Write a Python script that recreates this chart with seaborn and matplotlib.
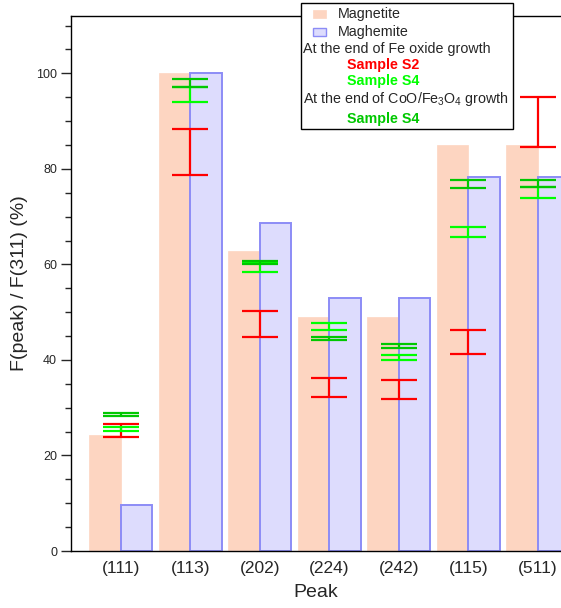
import numpy as np
import pandas as pd
import matplotlib
matplotlib.use("Agg")
import matplotlib.pyplot as plt
from matplotlib.patches import Rectangle
from matplotlib.ticker import MultipleLocator
import seaborn as sns

# peak intensities relative to (311), in %
peaks = ["(111)", "(113)", "(202)", "(224)", "(242)", "(115)", "(511)"]
magnetite = [24.2, 100.0, 62.8, 49.0, 49.0, 85.0, 85.0]
maghemite = [9.7, 100.0, 68.6, 52.9, 52.9, 78.2, 78.2]

# measured ratios with errors
s2_fe = [25.2, 83.5, 47.5, 34.3, 33.8, 43.7, 89.8]
s2_fe_err = [1.4, 4.8, 2.8, 2.0, 2.0, 2.5, 5.2]
s4_fe = [25.6, 95.6, 59.4, 47.0, 40.5, 66.8, 75.1]
s4_fe_err = [0.4, 1.5, 1.0, 0.8, 0.6, 1.0, 1.1]
s4_coo = [28.5, 98.0, 60.4, 44.5, 42.9, 76.8, 76.9]
s4_coo_err = [0.3, 0.9, 0.4, 0.4, 0.45, 0.8, 0.7]

W, H = 561, 608

sns.set_style("ticks")
plt.rcParams["font.family"] = ["Liberation Sans", "DejaVu Sans"]
plt.rcParams["mathtext.fontset"] = "custom"
plt.rcParams["mathtext.rm"] = "Liberation Sans"
plt.rcParams["mathtext.it"] = "Liberation Sans:italic"

df = pd.DataFrame({
    "peak": peaks * 2,
    "value": magnetite + maghemite,
    "phase": ["Magnetite"] * len(peaks) + ["Maghemite"] * len(peaks),
})

fig = plt.figure(figsize=(W / 100, H / 100), dpi=100)
ax = fig.add_axes([71 / W, 57 / H, (W - 71) / W, (551 - 16) / H])

sns.barplot(data=df, x="peak", y="value", hue="phase",
            palette={"Magnetite": "#fdd5c1", "Maghemite": "#dddcfd"},
            saturation=1, width=0.91, gap=0, legend=False, ax=ax, zorder=1)

# magnetite: no visible edge, maghemite: blue outline
for bar in ax.containers[0]:
    bar.set_edgecolor("#fdd5c1")
    bar.set_linewidth(0.5)
for bar in ax.containers[1]:
    bar.set_edgecolor("#8c8cf6")
    bar.set_linewidth(1.4)

x = np.arange(len(peaks))
eb = dict(fmt="none", capsize=13, elinewidth=1.6, capthick=1.6, zorder=3)
ax.errorbar(x, s2_fe, yerr=s2_fe_err, ecolor="#ff0000", **eb)
ax.errorbar(x, s4_fe, yerr=s4_fe_err, ecolor="#00ff00", **eb)
ax.errorbar(x, s4_coo, yerr=s4_coo_err, ecolor="#00c800", **eb)

ax.set_xlim(-0.715, 6.335)
ax.set_ylim(0, 112)
ax.set_yticks(range(0, 101, 20))
ax.yaxis.set_minor_locator(MultipleLocator(5))
ax.tick_params(axis="y", which="major", direction="out", length=7, width=1,
               labelsize=9, pad=3)
ax.tick_params(axis="y", which="minor", direction="out", length=4, width=1)
ax.tick_params(axis="x", length=0, labelsize=12.5, pad=7)
ax.set_xlabel("Peak", fontsize=14, labelpad=6)
ax.set_ylabel("F(peak) / F(311) (%)", fontsize=14, labelpad=6)

for side in ["left", "bottom", "top"]:
    ax.spines[side].set_color("black")
    ax.spines[side].set_linewidth(1)
ax.spines["right"].set_visible(False)


def fx(px):
    return px / W


def fy(py):
    return 1 - py / H


# hand-made legend box
fig.add_artist(Rectangle((fx(301), fy(129)), 212 / W, 126 / H,
                         transform=fig.transFigure, facecolor="white",
                         edgecolor="black", linewidth=1, zorder=10))
fig.add_artist(Rectangle((fx(313), fy(18)), 13 / W, 8 / H,
                         transform=fig.transFigure, facecolor="#fdd5c1",
                         edgecolor="#fdd5c1", linewidth=0.5, zorder=11))
fig.add_artist(Rectangle((fx(313), fy(36)), 13 / W, 8 / H,
                         transform=fig.transFigure, facecolor="#dddcfd",
                         edgecolor="#8c8cf6", linewidth=1, zorder=11))

txt = dict(fontsize=10.3, va="center", ha="left", zorder=12)
fig.text(fx(338), fy(14), "Magnetite", **txt)
fig.text(fx(338), fy(32), "Maghemite", **txt)
fig.text(fx(303), fy(49), "At the end of Fe oxide growth", **txt)
fig.text(fx(347), fy(65), "Sample S2", color="#ff0000", fontweight="bold", **txt)
fig.text(fx(347), fy(81), "Sample S4", color="#00ff00", fontweight="bold", **txt)
fig.text(fx(303), fy(99), "At the end of CoO/Fe$_3$O$_4$ growth", **txt)
fig.text(fx(347), fy(119), "Sample S4", color="#00c800", fontweight="bold", **txt)

fig.savefig("out.png", dpi=100)
